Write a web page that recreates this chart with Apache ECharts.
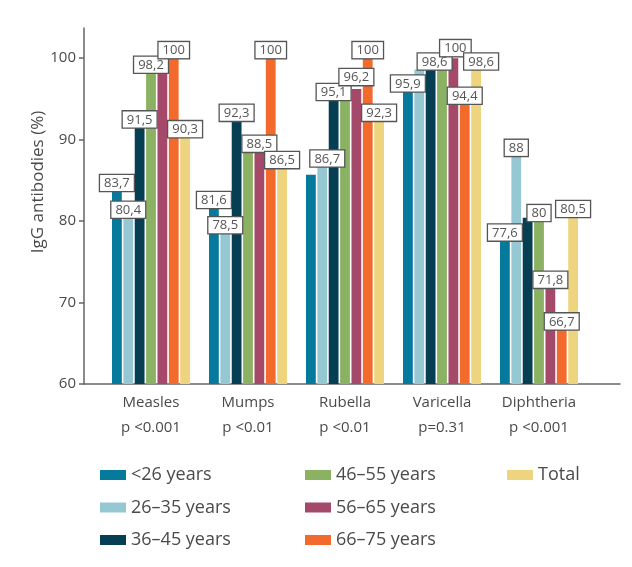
<!DOCTYPE html>
<html>
<head>
<meta charset="utf-8">
<script src="https://cdn.jsdelivr.net/npm/echarts@6/dist/echarts.min.js"></script>
<style>
html,body{margin:0;padding:0;background:#fff;}
#chart{width:632px;height:567px;}
</style>
</head>
<body>
<div id="chart"></div>
<script>
// ---- data ----
var categories = ['Measles', 'Mumps', 'Rubella', 'Varicella', 'Diphtheria'];
var pValues = ['p <0.001', 'p <0.01', 'p <0.01', 'p=0.31', 'p <0.001'];
var seriesNames = ['<26 years', '26–35 years', '36–45 years', '46–55 years', '56–65 years', '66–75 years', 'Total'];
var under26 = [83.7, 81.6, 85.7, 95.9, 77.6];
var age26to35 = [80.4, 78.5, 86.7, 98.6, 88];
var age36to45 = [91.5, 92.3, 95.1, 98.6, 80.4];
var age46to55 = [98.2, 88.5, 95.5, 98.6, 80];
var age56to65 = [98.2, 88.5, 96.2, 100, 71.8];
var age66to75 = [100, 100, 100, 94.4, 66.7];
var total = [90.3, 86.5, 92.3, 98.6, 80.5];
var yTicks = [60, 70, 80, 90, 100];
// bars shown without a value box: [seriesIndex, categoryIndex]
var unlabeled = [[0, 2], [1, 3], [2, 4], [3, 1], [3, 2], [3, 3], [4, 0]];
// value boxes nudged to avoid overlaps: [seriesIndex, categoryIndex, dx, dy]
var labelNudges = [[1, 2, 5, 0], [2, 2, 0, 2], [4, 2, 0, -4], [2, 3, 4, 0], [4, 3, 2, -2], [6, 3, 5, 0]];

var allValues = [under26, age26to35, age36to45, age46to55, age56to65, age66to75, total];
var colors = ['#057a9d', '#95c8d3', '#063f54', '#8ab262', '#a5496b', '#f26a2c', '#eed47e'];

var font = '"Open Sans", "Noto Sans", sans-serif';
var textColor = '#4a4a4a';
var yMin = 60, yMax = 103.7;

function isUnlabeled(s, c) {
  for (var i = 0; i < unlabeled.length; i++) {
    if (unlabeled[i][0] === s && unlabeled[i][1] === c) return true;
  }
  return false;
}
function nudgeFor(s, c) {
  for (var i = 0; i < labelNudges.length; i++) {
    if (labelNudges[i][0] === s && labelNudges[i][1] === c) return [labelNudges[i][2], labelNudges[i][3]];
  }
  return [0, 0];
}

var labelStyle = {
  position: 'top',
  distance: 0,
  formatter: function (p) { return String(p.value).replace('.', ','); },
  fontFamily: font,
  fontSize: 13,
  color: '#555',
  backgroundColor: '#fff',
  borderColor: '#555',
  borderWidth: 1.3,
  padding: [1, 4, 0, 4],
  lineHeight: 15
};

// visible bars (no labels)
var barSeries = allValues.map(function (vals, s) {
  return {
    name: seriesNames[s],
    type: 'bar',
    xAxisIndex: 1,
    yAxisIndex: 1,
    barWidth: 9.8,
    barGap: '16%',
    itemStyle: { color: colors[s] },
    data: vals,
    z: 2
  };
});

// transparent overlay bars carrying the value boxes, drawn above all bars
var labelSeries = allValues.map(function (vals, s) {
  return {
    name: seriesNames[s] + ' (label)',
    type: 'bar',
    xAxisIndex: 2,
    yAxisIndex: 2,
    barWidth: 9.8,
    barGap: '16%',
    silent: true,
    itemStyle: { color: 'rgba(0,0,0,0)' },
    label: labelStyle,
    data: vals.map(function (v, c) {
      return { value: v, label: { show: !isUnlabeled(s, c), offset: nudgeFor(s, c) } };
    }),
    z: 10
  };
});

var legendCols = [[0, 1, 2], [3, 4, 5], [6]];
var legendLefts = [100, 305, 507];
var legends = legendCols.map(function (col, i) {
  return {
    orient: 'vertical',
    left: legendLefts[i],
    top: 465,
    padding: 0,
    itemWidth: 26,
    itemHeight: 10,
    itemGap: 12.5,
    icon: 'rect',
    selectedMode: false,
    data: col.map(function (k) { return seriesNames[k]; }),
    textStyle: { fontFamily: font, fontSize: 18, color: textColor, lineHeight: 20 }
  };
});

var option = {
  animation: false,
  backgroundColor: '#fff',
  color: colors,
  grid: [
    { left: 84, right: 12, top: 28, bottom: 183 },
    { left: 102.5, right: 44.5, top: 28, bottom: 183 },
    { left: 102.5, right: 44.5, top: 28, bottom: 183 }
  ],
  xAxis: [
    {
      gridIndex: 0, type: 'value', min: 0, max: 1,
      axisLine: { show: true, lineStyle: { color: '#666', width: 1.5 } },
      axisTick: { show: false }, axisLabel: { show: false }, splitLine: { show: false }
    },
    {
      gridIndex: 1, type: 'category', data: categories.map(function (c, i) { return c + '\n' + pValues[i]; }),
      axisLine: { show: false }, axisTick: { show: false }, splitLine: { show: false },
      axisLabel: { fontFamily: font, fontSize: 15, color: textColor, lineHeight: 25, margin: 6 }
    },
    { gridIndex: 2, type: 'category', data: categories, show: false }
  ],
  yAxis: [
    {
      gridIndex: 0, type: 'value', min: yMin, max: yMax,
      axisLine: { show: true, lineStyle: { color: '#666', width: 1.5 } },
      axisTick: { show: true, length: 5, customValues: yTicks, lineStyle: { color: '#666', width: 1.5 } },
      axisLabel: { customValues: yTicks, fontFamily: font, fontSize: 15, color: textColor, margin: 8 },
      splitLine: { show: false }
    },
    { gridIndex: 1, type: 'value', min: yMin, max: yMax, show: false, splitLine: { show: false } },
    { gridIndex: 2, type: 'value', min: yMin, max: yMax, show: false, splitLine: { show: false } }
  ],
  legend: legends,
  graphic: [{
    type: 'text',
    x: 38, y: 182,
    rotation: Math.PI / 2,
    style: {
      text: 'IgG antibodies (%)',
      fontFamily: font, fontSize: 17, fill: textColor,
      textAlign: 'center', textVerticalAlign: 'middle'
    }
  }],
  series: barSeries.concat(labelSeries)
};

var chart = echarts.init(document.getElementById('chart'), null, { renderer: 'canvas' });
chart.setOption(option);
</script>
</body>
</html>
